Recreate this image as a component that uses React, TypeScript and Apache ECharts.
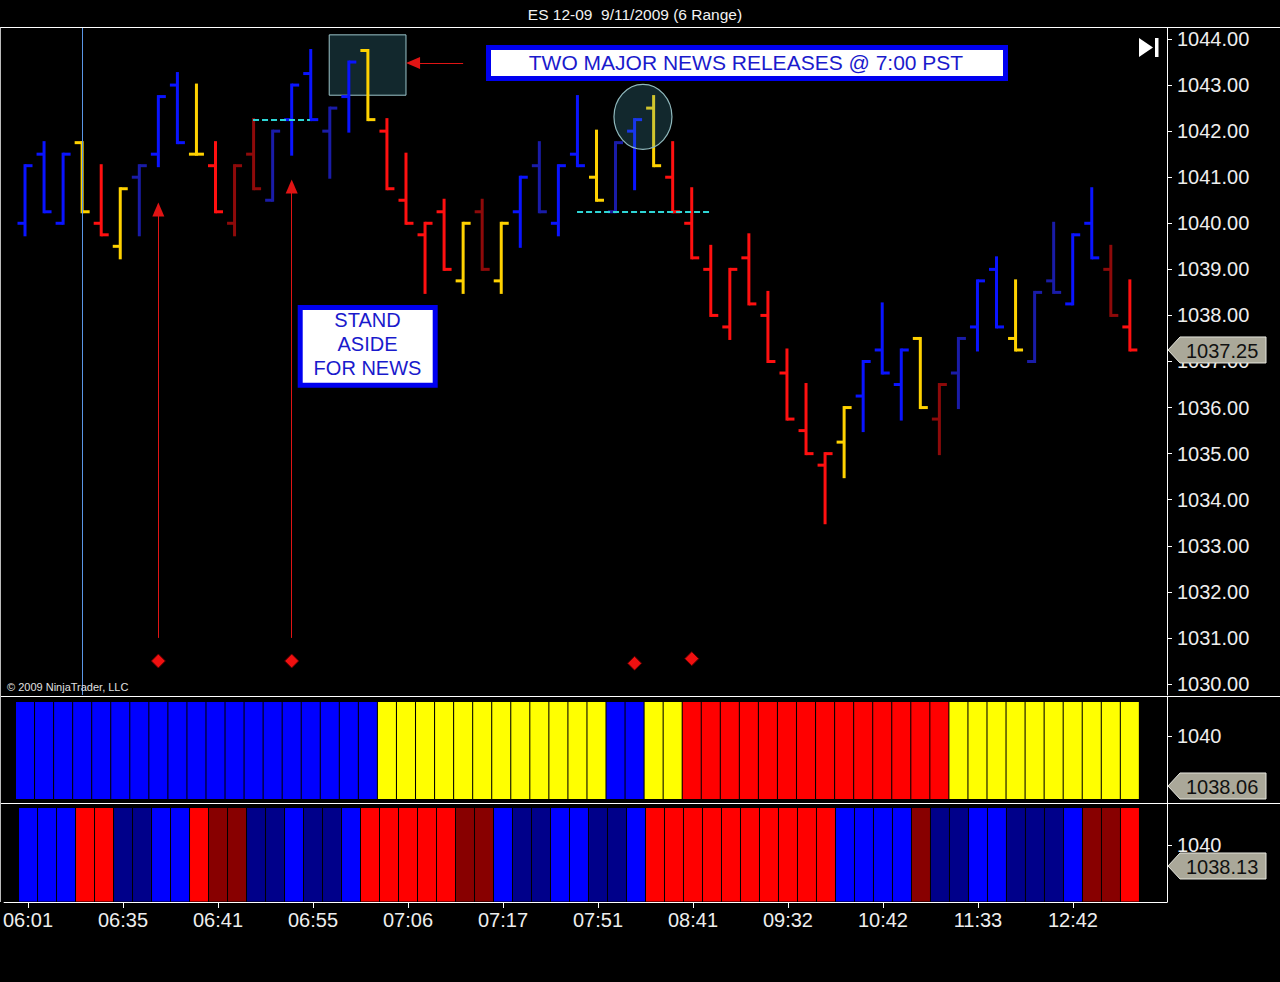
import React, { useEffect, useRef } from 'react';
import * as echarts from 'echarts';

// ---- price bars (6-tick range bars) ----
const opens = [1040.0, 1041.5, 1040.0, 1041.75, 1040.0, 1039.5, 1041.0, 1041.5, 1043.0, 1041.5,
  1041.25, 1040.0, 1041.5, 1040.5, 1042.25, 1043.25, 1042.0, 1042.75, 1043.75, 1042.0,
  1040.5, 1039.75, 1040.25, 1038.75, 1040.25, 1038.75, 1040.25, 1041.25, 1040.0, 1041.5,
  1041.0, 1040.25, 1042.0, 1042.5, 1041.0, 1040.0, 1039.0, 1037.75, 1039.25, 1038.0,
  1036.75, 1035.5, 1034.75, 1035.25, 1036.25, 1037.25, 1036.5, 1037.5, 1035.75, 1036.75,
  1037.75, 1039.0, 1037.5, 1037.0, 1038.75, 1038.25, 1040.0, 1039.0, 1037.75];
const highs = [1041.25, 1041.75, 1041.5, 1041.75, 1041.25, 1040.75, 1041.25, 1042.75, 1043.25, 1043.0,
  1041.75, 1041.25, 1042.25, 1042.0, 1043.0, 1043.75, 1042.5, 1043.5, 1043.75, 1042.25,
  1041.5, 1040.0, 1040.5, 1040.0, 1040.5, 1040.0, 1041.0, 1041.75, 1041.25, 1042.75,
  1042.0, 1041.75, 1042.25, 1042.75, 1041.75, 1040.75, 1039.5, 1039.0, 1039.75, 1038.5,
  1037.25, 1036.5, 1035.0, 1036.0, 1037.0, 1038.25, 1037.25, 1037.5, 1036.5, 1037.5,
  1038.75, 1039.25, 1038.75, 1038.5, 1040.0, 1039.75, 1040.75, 1039.5, 1038.75];
const lows = [1039.75, 1040.25, 1040.0, 1040.25, 1039.75, 1039.25, 1039.75, 1041.25, 1041.75, 1041.5,
  1040.25, 1039.75, 1040.75, 1040.5, 1041.5, 1042.25, 1041.0, 1042.0, 1042.25, 1040.75,
  1040.0, 1038.5, 1039.0, 1038.5, 1039.0, 1038.5, 1039.5, 1040.25, 1039.75, 1041.25,
  1040.5, 1040.25, 1040.75, 1041.25, 1040.25, 1039.25, 1038.0, 1037.5, 1038.25, 1037.0,
  1035.75, 1035.0, 1033.5, 1034.5, 1035.5, 1036.75, 1035.75, 1036.0, 1035.0, 1036.0,
  1037.25, 1037.75, 1037.25, 1037.0, 1038.5, 1038.25, 1039.25, 1038.0, 1037.25];
const closes = [1041.25, 1040.25, 1041.5, 1040.25, 1039.75, 1040.75, 1041.25, 1042.75, 1041.75, 1041.5,
  1040.25, 1041.25, 1040.75, 1042.0, 1043.0, 1042.25, 1042.5, 1043.5, 1042.25, 1040.75,
  1040.0, 1040.0, 1039.0, 1040.0, 1039.0, 1040.0, 1041.0, 1040.25, 1041.25, 1041.25,
  1040.5, 1041.75, 1042.25, 1041.25, 1040.25, 1039.25, 1038.0, 1039.0, 1038.25, 1037.0,
  1035.75, 1035.0, 1035.0, 1036.0, 1037.0, 1036.75, 1037.25, 1036.0, 1036.5, 1037.5,
  1038.75, 1037.75, 1037.25, 1038.5, 1038.5, 1039.75, 1039.25, 1038.0, 1037.25];
// B blue, N navy, Y yellow, R red, M maroon
const barColorCodes = ['B','B','B','Y','R','Y','N','B','B','Y','R','M','M','N','B','B','N','B','Y','R',
  'R','R','R','Y','M','Y','B','N','B','B','Y','N','B','Y','R','R','R','R','R','R',
  'R','R','R','Y','B','B','B','Y','M','N','B','B','Y','N','N','B','B','M','R'];
// ---- indicator panels ----
const trendColorCodes = ['B','B','B','B','B','B','B','B','B','B','B','B','B','B','B','B','B','B','B','Y',
  'Y','Y','Y','Y','Y','Y','Y','Y','Y','Y','Y','B','B','Y','Y','R','R','R','R','R',
  'R','R','R','R','R','R','R','R','R','Y','Y','Y','Y','Y','Y','Y','Y','Y','Y'];
const signalColorCodes = ['B','B','B','R','R','N','N','B','B','R','M','M','N','N','B','N','N','B','R','R',
  'R','R','R','M','M','B','N','N','B','B','N','N','B','R','R','R','R','R','R','R',
  'R','R','R','B','B','B','B','M','N','N','B','B','N','N','N','B','M','M','R'];
const trendLast = 1038.06;
const signalLast = 1038.13;
const lastPrice = 1037.25;
// ---- axes ----
const timeLabels = ['06:01','06:35','06:41','06:55','07:06','07:17','07:51','08:41','09:32','10:42','11:33','12:42'];
const timeLabelBars = [0, 5, 10, 15, 20, 25, 30, 35, 40, 45, 50, 55];
const priceTicks = [1030, 1031, 1032, 1033, 1034, 1035, 1036, 1037, 1038, 1039, 1040, 1041, 1042, 1043, 1044];
const panelTicks = [1040];
// ---- drawings ----
const signalDiamonds = [[7, 1030.5], [14, 1030.5], [32, 1030.45], [35, 1030.55]];
const upArrows = [[7, 1031.0, 1040.3], [14, 1031.0, 1040.8]];
const newsArrow = [23, 20.37, 1043.48];
const cyanLevels = [[11.97, 14.96, 1042.25], [28.98, 35.96, 1040.25]];
const sessionLineBar = 3;
const highlightBox = [15.97, 20.0, 1044.09, 1042.78];
const highlightCircle = [32.44, 1042.31];

const FONT = '"Liberation Sans", Arial, sans-serif';
const BAR_COLORS: Record<string, string> = { B: '#0A14FF', N: '#1A1CA8', Y: '#FFD200', R: '#FF1010', M: '#8E0A0A' };
const PANEL_COLORS: Record<string, string> = { B: '#0000FF', N: '#00008A', Y: '#FFFF00', R: '#FF0000', M: '#880000' };

function tagItem(cs: any, y: number, value: number) {
  const x0 = cs.x + cs.width + 1;
  return {
    type: 'group',
    children: [
      { type: 'polygon', shape: { points: [[x0, y], [x0 + 12, y - 13], [x0 + 98, y - 13], [x0 + 98, y + 13], [x0 + 12, y + 13]] },
        style: { fill: '#AAA899', stroke: '#E6E6DE', lineWidth: 1 } },
      { type: 'text', style: { text: value.toFixed(2), x: x0 + 18, y: y + 1, fill: '#111', fontSize: 20, fontFamily: FONT, verticalAlign: 'middle', align: 'left' } },
    ],
  };
}

export default function App() {
  const ref = useRef<HTMLDivElement>(null);
  useEffect(() => {
    document.body.style.margin = '0';
    document.body.style.background = '#000';
    const chart = echarts.init(ref.current!, null, { renderer: 'svg' });
    const ohlc = opens.map((o, i) => [i, o, highs[i], lows[i], closes[i]]);
    const idx = barColorCodes.map((_, i) => [i, 1040]);
    const xAxes = [0, 1, 2].map((g) => ({
      type: 'value', gridIndex: g, min: -1.26, max: 59.95, show: g === 2,
      axisLine: { show: true, onZero: false, lineStyle: { color: '#fff', width: 1 } },
      axisTick: { show: true, customValues: timeLabelBars, length: 6, lineStyle: { color: '#fff' } },
      axisLabel: { show: true, customValues: timeLabelBars, color: '#EEE', fontSize: 20, fontFamily: FONT, margin: 8,
        formatter: (v: number) => { const k = timeLabelBars.indexOf(Math.round(v)); return k >= 0 ? timeLabels[k] : ''; } },
      splitLine: { show: false },
    }));
    const yAxisBase = (g: number, min: number, max: number, ticks: number[], fmt: (v: number) => string) => ({
      type: 'value', gridIndex: g, position: 'right', min, max,
      axisLine: { show: true, onZero: false, lineStyle: { color: '#fff', width: 1 } },
      axisTick: { show: true, customValues: ticks, length: 5, lineStyle: { color: '#fff' } },
      axisLabel: { customValues: ticks, formatter: fmt, color: '#EEE', fontSize: 20, fontFamily: FONT, margin: 10 },
      splitLine: { show: false },
    });
    const option: any = {
      animation: false,
      backgroundColor: '#000',
      grid: [
        { left: 1, right: 113, top: 28, height: 667 },
        { left: 1, right: 113, top: 697, height: 106 },
        { left: 1, right: 113, top: 804, height: 98 },
      ],
      xAxis: xAxes,
      yAxis: [
        yAxisBase(0, 1029.761, 1044.2388, priceTicks, (v) => v.toFixed(2)),
        yAxisBase(1, 1037.40, 1041.513, panelTicks, (v) => String(Math.round(v))),
        yAxisBase(2, 1034.924, 1043.651, panelTicks, (v) => String(Math.round(v))),
      ],
      series: [
        {
          type: 'scatter', xAxisIndex: 0, yAxisIndex: 0, data: [], z: 1, silent: true,
          markLine: { silent: true, symbol: 'none', label: { show: false },
            lineStyle: { color: '#5A96E6', width: 1, type: 'solid' },
            data: [{ xAxis: sessionLineBar }] },
        },
        {
          type: 'custom', name: 'ES', xAxisIndex: 0, yAxisIndex: 0, z: 3, clip: false,
          encode: { x: 0, y: [1, 2, 3, 4] },
          data: ohlc,
          renderItem: (params: any, api: any) => {
            const i = api.value(0);
            const pH = api.coord([i, api.value(2)]);
            const pL = api.coord([i, api.value(3)]);
            const pO = api.coord([i, api.value(1)]);
            const pC = api.coord([i, api.value(4)]);
            const color = BAR_COLORS[barColorCodes[params.dataIndex]];
            const x = pH[0];
            const style = { stroke: color, lineWidth: 3 };
            return {
              type: 'group',
              children: [
                { type: 'line', shape: { x1: x, y1: pH[1] - 1.5, x2: x, y2: pL[1] + 1.5 }, style },
                { type: 'line', shape: { x1: x - 7.5, y1: pO[1], x2: x, y2: pO[1] }, style },
                { type: 'line', shape: { x1: x, y1: pC[1], x2: x + 7.5, y2: pC[1] }, style },
              ],
            };
          },
        },
        {
          type: 'scatter', xAxisIndex: 0, yAxisIndex: 0, z: 5, silent: true,
          symbol: 'diamond', symbolSize: 14,
          itemStyle: { color: '#F01010', borderColor: '#5A0000', borderWidth: 1, opacity: 1 },
          data: signalDiamonds,
          markLine: { silent: true, symbol: ['none', 'triangle'], symbolSize: [12, 14], label: { show: false },
            lineStyle: { color: '#E01414', width: 1, type: 'solid' },
            data: [
              ...upArrows.map((a) => [{ coord: [a[0], a[1]] }, { coord: [a[0], a[2]] }]),
              [{ coord: [newsArrow[0], newsArrow[2]] }, { coord: [newsArrow[1], newsArrow[2]] }],
            ] },
        },
        {
          type: 'scatter', xAxisIndex: 0, yAxisIndex: 0, data: [], z: 6, silent: true,
          markLine: { silent: true, symbol: 'none', label: { show: false },
            lineStyle: { color: '#2ED6D6', width: 2, type: [6, 3] },
            data: cyanLevels.map((c) => [{ coord: [c[0], c[2]] }, { coord: [c[1], c[2]] }]) },
          markArea: { silent: true, label: { show: false },
            itemStyle: { color: 'rgba(70,160,180,0.25)', borderColor: '#9BC4CA', borderWidth: 1 },
            data: [[{ coord: [highlightBox[0], highlightBox[2]] }, { coord: [highlightBox[1], highlightBox[3]] }]] },
        },
        {
          type: 'custom', xAxisIndex: 0, yAxisIndex: 0, z: 6, clip: false, silent: true,
          data: [highlightCircle],
          renderItem: (params: any, api: any) => {
            const p = api.coord([api.value(0), api.value(1)]);
            return { type: 'ellipse', shape: { cx: p[0], cy: p[1], rx: 29, ry: 32.5 },
              style: { fill: 'rgba(70,160,180,0.25)', stroke: '#8FB8BC', lineWidth: 1.2 } };
          },
        },
        {
          type: 'custom', xAxisIndex: 1, yAxisIndex: 1, z: 3, clip: false, silent: true,
          data: idx,
          renderItem: (params: any, api: any) => {
            const x = api.coord([api.value(0), api.value(1)])[0];
            const cs = params.coordSys;
            return { type: 'rect', shape: { x: x - 9, y: cs.y + 5, width: 18, height: cs.height - 9 },
              style: { fill: PANEL_COLORS[trendColorCodes[params.dataIndex]] } };
          },
        },
        {
          type: 'custom', xAxisIndex: 2, yAxisIndex: 2, z: 3, clip: false, silent: true,
          data: idx,
          renderItem: (params: any, api: any) => {
            const x = api.coord([api.value(0), api.value(1)])[0];
            const cs = params.coordSys;
            return { type: 'rect', shape: { x: x - 9, y: cs.y + 4, width: 18, height: cs.height - 4.5 },
              style: { fill: PANEL_COLORS[signalColorCodes[params.dataIndex]] } };
          },
        },
        ...[[0, lastPrice], [1, trendLast], [2, signalLast]].map(([g, v]) => ({
          type: 'custom', xAxisIndex: g, yAxisIndex: g, z: 10, clip: false, silent: true,
          data: [[opens.length - 1, v]],
          renderItem: (params: any, api: any) => {
            const y = api.coord([api.value(0), api.value(1)])[1];
            return tagItem(params.coordSys, y, api.value(1));
          },
        })),
      ],
      graphic: [
        { type: 'text', z: 100, style: { text: 'ES 12-09  9/11/2009 (6 Range)', x: 635, y: 14, fill: '#F2F2F2', fontSize: 15.5, fontFamily: FONT, align: 'center', verticalAlign: 'middle', textAlign: 'center', textVerticalAlign: 'middle' } },
        { type: 'line', z: 100, shape: { x1: 0, y1: 27.5, x2: 1280, y2: 27.5 }, style: { stroke: '#FFF', lineWidth: 1 } },
        { type: 'line', z: 100, shape: { x1: 0, y1: 696.5, x2: 1280, y2: 696.5 }, style: { stroke: '#FFF', lineWidth: 1 } },
        { type: 'line', z: 100, shape: { x1: 0, y1: 803.5, x2: 1280, y2: 803.5 }, style: { stroke: '#FFF', lineWidth: 1 } },
        { type: 'line', z: 100, shape: { x1: 0.5, y1: 27.5, x2: 0.5, y2: 902 }, style: { stroke: '#BBB', lineWidth: 1 } },
        { type: 'polygon', z: 100, shape: { points: [[1139, 38], [1153, 47.5], [1139, 57]] }, style: { fill: '#FFF' } },
        { type: 'rect', z: 100, shape: { x: 1155, y: 38, width: 3.5, height: 19 }, style: { fill: '#FFF' } },
        { type: 'rect', z: 100, shape: { x: 488.5, y: 47.5, width: 517, height: 31 }, style: { fill: '#FFF', stroke: '#0000F0', lineWidth: 5 } },
        { type: 'text', z: 101, style: { text: 'TWO MAJOR NEWS RELEASES @ 7:00 PST', x: 746, y: 62, fill: '#1A1ACC', fontSize: 21, fontFamily: FONT, align: 'center', verticalAlign: 'middle', textAlign: 'center', textVerticalAlign: 'middle' } },
        { type: 'rect', z: 100, shape: { x: 300.2, y: 307.5, width: 135, height: 77.7 }, style: { fill: '#FFF', stroke: '#0000F0', lineWidth: 5 } },
        { type: 'text', z: 101, style: { text: 'STAND', x: 367.5, y: 320, fill: '#1A1ACC', fontSize: 20, fontFamily: FONT, align: 'center', verticalAlign: 'middle', textAlign: 'center', textVerticalAlign: 'middle' } },
        { type: 'text', z: 101, style: { text: 'ASIDE', x: 367.5, y: 344, fill: '#1A1ACC', fontSize: 20, fontFamily: FONT, align: 'center', verticalAlign: 'middle', textAlign: 'center', textVerticalAlign: 'middle' } },
        { type: 'text', z: 101, style: { text: 'FOR NEWS', x: 367.5, y: 368, fill: '#1A1ACC', fontSize: 20, fontFamily: FONT, align: 'center', verticalAlign: 'middle', textAlign: 'center', textVerticalAlign: 'middle' } },
        { type: 'text', z: 100, style: { text: '© 2009 NinjaTrader, LLC', x: 7, y: 687, fill: '#E0E0E0', fontSize: 11, fontFamily: FONT, align: 'left', verticalAlign: 'middle', textAlign: 'left', textVerticalAlign: 'middle' } },
      ],
    };
    chart.setOption(option);
    return () => chart.dispose();
  }, []);
  return <div ref={ref} style={{ width: 1280, height: 982, background: '#000' }} />;
}
